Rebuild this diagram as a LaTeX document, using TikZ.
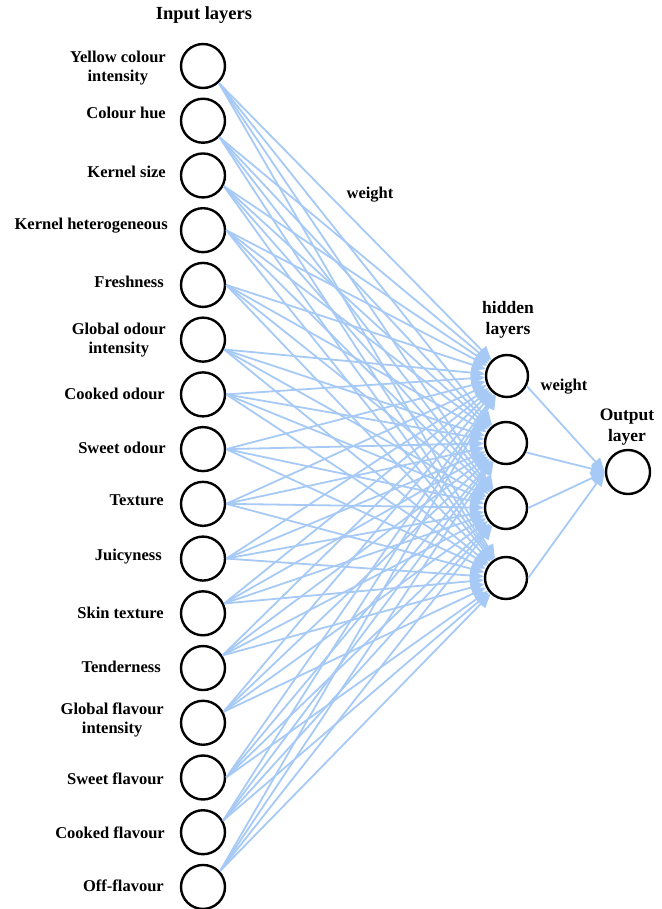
\documentclass[tikz,border=0pt]{standalone}
\usepackage{fontspec}
\setmainfont{Liberation Serif}
\usetikzlibrary{arrows.meta}
\definecolor{linkblue}{RGB}{166,202,245}
\tikzset{
  neuron/.style={circle,draw=black,line width=2.4pt,fill=white,minimum size=44pt,inner sep=0pt},
  hneuron/.style={neuron,minimum size=42pt},
  lab/.style={font=\fontsize{16.5}{19}\selectfont\bfseries,align=center,anchor=east,inner sep=0pt},
  head/.style={font=\fontsize{17.5}{21}\selectfont\bfseries,align=center,inner sep=0pt},
  conn/.style={draw=linkblue,line width=1.8pt,-{Triangle[length=14pt,width=12pt]}},
}
\begin{document}
\begin{tikzpicture}[x=1pt,y=-1pt]
\useasboundingbox (0,0) rectangle (661,909);
% input nodes
\foreach \i in {0,...,15}{
  \node[neuron] (in\i) at (203,{66+\i*54.73}) {};
}
% hidden nodes
\node[hneuron] (h1) at (507,376) {};
\node[hneuron] (h2) at (506,443) {};
\node[hneuron] (h3) at (506,508) {};
\node[hneuron] (h4) at (506,578) {};
% output node
\node[neuron] (out) at (628,472) {};
% labels
\node[lab] (l0) at (166,68) {Yellow colour\\intensity};
\node[lab] (l1) at (166,113) {Colour hue};
\node[lab] (l2) at (166,172) {Kernel size};
\node[lab] (l3) at (168,226) {Kernel heterogeneous};
\node[lab] (l4) at (164,282) {Freshness};
\node[lab] (l5) at (166,340) {Global odour\\intensity};
\node[lab] (l6) at (165,394) {Cooked odour};
\node[lab] (l7) at (166,448) {Sweet odour};
\node[lab] (l8) at (164,500) {Texture};
\node[lab] (l9) at (162,557) {Juicyness};
\node[lab] (l10) at (164,613) {Skin texture};
\node[lab] (l11) at (161,667) {Tenderness};
\node[lab] (l12) at (164,720) {Global flavour\\intensity};
\node[lab] (l13) at (164,779) {Sweet flavour};
\node[lab] (l14) at (165,833) {Cooked flavour};
\node[lab] (l15) at (164,886) {Off-flavour};
% headings
\node[head,font=\fontsize{18.5}{21}\selectfont\bfseries] (tin) at (204,15) {Input layers};
\node[lab,anchor=center] (w1) at (370,195) {weight};
\node[head] (thid) at (508,320) {hidden\\layers};
\node[lab,anchor=center] (w2) at (564,387) {weight};
\node[head] (tout) at (627,427) {Output\\layer};
% connectors input -> hidden
\foreach \i/\a in {0/-47,1/-45,2/-27,3/0,4/0,5/-25,6/0,7/0,8/0,9/0,10/25,11/33,12/28,13/0,14/30,15/43}{
  \foreach \j in {1,...,4}{
    \draw[conn] (in\i.\a) -- (h\j);
  }
}
% connectors hidden -> output
\draw[conn] (h1.-27) -- (out.west);
\draw[conn] (h2.-25) -- (out.west);
\draw[conn] (h3.0) -- (out.west);
\draw[conn] (h4.0) -- (out.west);
\end{tikzpicture}
\end{document}
